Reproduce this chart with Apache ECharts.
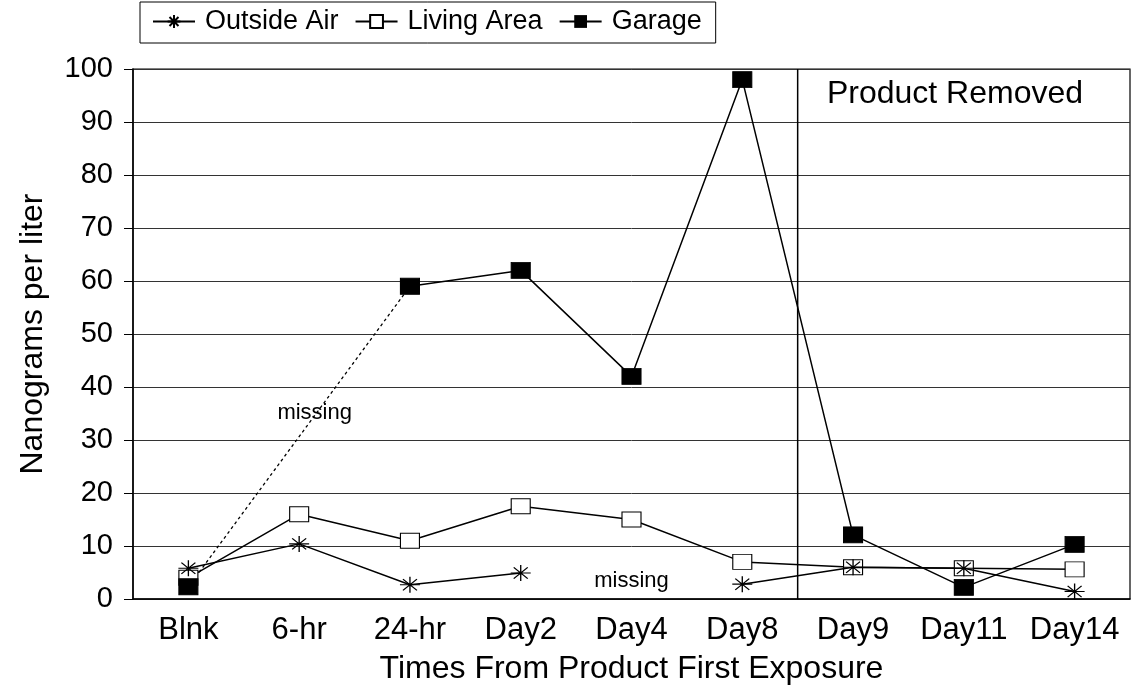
<!DOCTYPE html>
<html>
<head>
<meta charset="utf-8">
<script src="https://cdn.jsdelivr.net/npm/echarts@6/dist/echarts.min.js"></script>
<style>
  html, body { margin: 0; padding: 0; background: #fff; }
  #chart { width: 1133px; height: 685px; }
</style>
</head>
<body>
<div id="chart"></div>
<script>
// data
var categories = ['Blnk', '6-hr', '24-hr', 'Day2', 'Day4', 'Day8', 'Day9', 'Day11', 'Day14'];
var outsideAir = [5.8, 10.4, 2.7, 4.9, null, 2.8, 6, 5.8, 1.4];
var livingArea = [4, 16, 11, 17.5, 15, 7, 6, 5.8, 5.6];
var garage = [2.3, null, 59, 62, 42, 98, 12.1, 2.2, 10.3];
// dotted bridge over the missing garage sample
var garageBridge = [2.3, null, 59, null, null, null, null, null, null];
var yTicks = [0, 10, 20, 30, 40, 50, 60, 70, 80, 90, 100];
// band boundary where the product was removed (between Day8 and Day9)
var removedAt = 6;
// note positions: [band units, y value]
var missingNotes = [[1.64, 35.2], [4.5, 3.4]];
var removedNote = [7.42, 95.3];

var FONT = 'Liberation Sans';
var asterisk = 'path://M0,5L10,5M5,0L5,10M1.5,1.5L8.5,8.5M8.5,1.5L1.5,8.5';

var chart = echarts.init(document.getElementById('chart'));
chart.setOption({
  animation: false,
  textStyle: { fontFamily: FONT, color: '#000' },
  legend: {
    left: 140,
    top: 2,
    padding: [6, 14, 8, 12],
    borderColor: '#000',
    borderWidth: 1,
    itemWidth: 42,
    itemHeight: 16,
    itemGap: 16,
    textStyle: { fontSize: 27, color: '#000', fontFamily: FONT, padding: [0, 0, 0, 5] },
    data: ['Outside Air', 'Living Area', 'Garage']
  },
  grid: {
    left: 133, right: 3, top: 69, bottom: 86,
    outerBoundsMode: 'none',
    containLabel: false,
    show: true, borderColor: '#000', borderWidth: 1.2
  },
  xAxis: [{
    type: 'category',
    data: categories,
    boundaryGap: true,
    name: 'Times From Product First Exposure',
    nameLocation: 'middle',
    nameGap: 54,
    nameTextStyle: { fontSize: 32, color: '#000' },
    axisLine: { lineStyle: { color: '#000', width: 1.5 } },
    axisTick: { alignWithLabel: true, length: 10, lineStyle: { color: '#000' } },
    axisLabel: { fontSize: 31, color: '#000', margin: 16, interval: 0 },
    splitLine: { show: false }
  }, {
    type: 'value',
    min: 0,
    max: categories.length,
    show: false
  }],
  yAxis: {
    type: 'value',
    min: yTicks[0],
    max: yTicks[yTicks.length - 1],
    interval: 10,
    name: 'Nanograms per liter',
    nameLocation: 'middle',
    nameGap: 84,
    nameTextStyle: { fontSize: 32, color: '#000' },
    axisLine: { show: true, lineStyle: { color: '#000', width: 1.5 } },
    axisTick: { show: true, length: 9, lineStyle: { color: '#000' } },
    axisLabel: { fontSize: 29, color: '#000', margin: 20 },
    splitLine: { show: true, lineStyle: { color: '#333', width: 1 } }
  },
  series: [{
    name: 'Garage-bridge',
    type: 'line',
    data: garageBridge,
    connectNulls: true,
    symbol: 'none',
    lineStyle: { color: '#000', width: 1.3, type: [3, 3] },
    silent: true,
    z: 1
  }, {
    name: 'Outside Air',
    type: 'line',
    data: outsideAir,
    connectNulls: false,
    symbol: asterisk,
    symbolSize: [20, 16],
    itemStyle: { color: 'transparent', borderColor: '#000', borderWidth: 1.2 },
    lineStyle: { color: '#000', width: 1.5 },
    z: 3
  }, {
    name: 'Living Area',
    type: 'line',
    data: livingArea,
    symbol: 'rect',
    symbolSize: [19, 15],
    itemStyle: { color: '#fff', borderColor: '#000', borderWidth: 1 },
    lineStyle: { color: '#000', width: 1.5 },
    z: 2
  }, {
    name: 'Garage',
    type: 'line',
    data: garage,
    connectNulls: false,
    symbol: 'rect',
    symbolSize: [19, 16],
    itemStyle: { color: '#000', borderColor: '#000' },
    lineStyle: { color: '#000', width: 1.5 },
    z: 4
  }, {
    name: 'removed',
    type: 'line',
    xAxisIndex: 1,
    data: [[removedAt, yTicks[0]], [removedAt, yTicks[yTicks.length - 1]]],
    symbol: 'none',
    silent: true,
    lineStyle: { color: '#000', width: 1.5 },
    markPoint: {
      symbol: 'circle',
      symbolSize: 0,
      silent: true,
      data: [{
        coord: removedNote,
        label: { show: true, formatter: 'Product Removed', fontSize: 32, color: '#000', fontFamily: FONT }
      }].concat(missingNotes.map(function (p) {
        return {
          coord: p,
          label: { show: true, formatter: 'missing', fontSize: 22, color: '#000', fontFamily: FONT }
        };
      }))
    }
  }]
});
</script>
</body>
</html>
